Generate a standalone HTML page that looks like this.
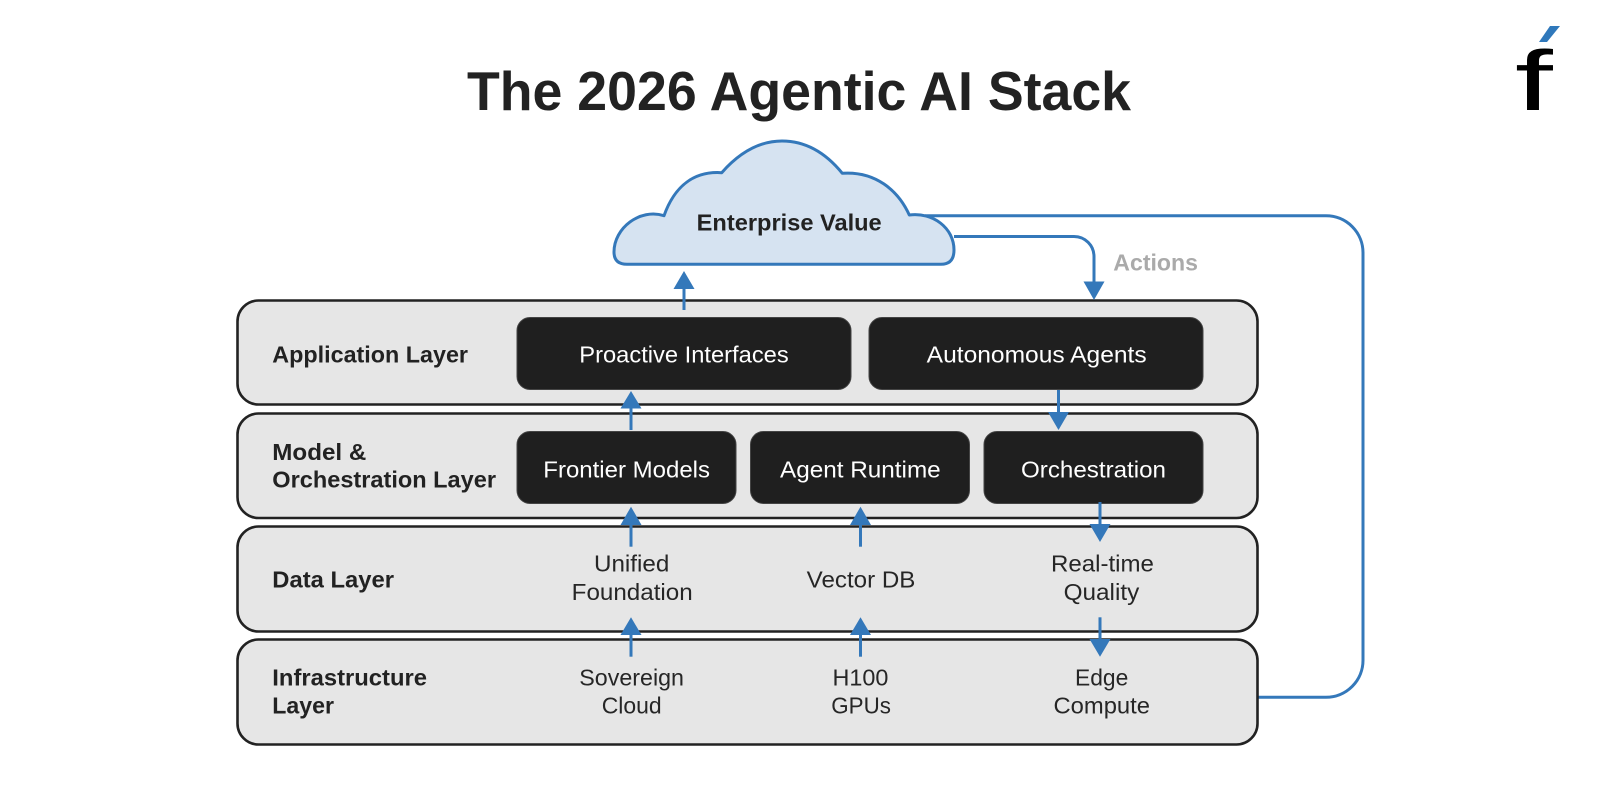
<!DOCTYPE html>
<html lang="en">
<head>
<meta charset="utf-8">
<title>The 2026 Agentic AI Stack</title>
<style>
html,body{margin:0;padding:0;background:#fff;width:1600px;height:800px;overflow:hidden}
svg{display:block}
text{font-family:"Liberation Sans",sans-serif}
.t{font-size:23px;fill:#262626}
.b{font-size:23px;font-weight:700;fill:#222}
.w{font-size:23px;fill:#fff}
.layer{fill:#e6e6e6;stroke:#222;stroke-width:2.6}
.box{fill:#1f1f1f;stroke:#444;stroke-width:1}
.ln{fill:none;stroke:#3478ba;stroke-width:3}
.hd{fill:#3478ba}
</style>
</head>
<body>
<svg xmlns="http://www.w3.org/2000/svg" width="1600" height="800" viewBox="0 0 1600 800">
<rect width="1600" height="800" fill="#fff"/>

<text x="467" y="110" font-size="55" font-weight="700" fill="#222" textLength="664" lengthAdjust="spacingAndGlyphs">The 2026 Agentic AI Stack</text>

<!-- logo -->
<polygon points="1550,26 1560,26 1547,42 1539,42" fill="#2f78bb"/>
<text transform="translate(1515 110) scale(1.6 1)" x="0" y="0" font-size="85" fill="#000">f</text>

<!-- loop connector -->
<path class="ln" d="M1258 697.3H1326A37 37 0 0 0 1363 660.3V253A37 37 0 0 0 1326 215.7H925"/>

<!-- cloud -->
<path d="M627 264.3Q614 264.3 614 252C614 228 640 208 664 215.7C675 185 695 171 721.7 172.7C740 152 760 141 782 141C805 141 825 152 842.3 173.3C875 171 898 190 909.3 215C933 212 954 228 954 250Q954 264.3 941 264.3Z" fill="#d6e3f1" stroke="#3478ba" stroke-width="3" stroke-linejoin="round"/>
<text class="b" x="696.7" y="230.7" fill="#1f2328" textLength="185" lengthAdjust="spacingAndGlyphs">Enterprise Value</text>

<!-- layers -->
<rect class="layer" x="237.5" y="300.5" width="1020" height="104" rx="21"/>
<rect class="layer" x="237.5" y="413.5" width="1020" height="104.5" rx="21"/>
<rect class="layer" x="237.5" y="526.5" width="1020" height="105" rx="21"/>
<rect class="layer" x="237.5" y="639.5" width="1020" height="105" rx="21"/>

<!-- dark boxes -->
<rect class="box" x="517" y="317.5" width="334" height="72" rx="13"/>
<rect class="box" x="869" y="317.5" width="334" height="72" rx="13"/>
<rect class="box" x="517" y="431.5" width="219" height="72" rx="13"/>
<rect class="box" x="750.5" y="431.5" width="219" height="72" rx="13"/>
<rect class="box" x="984" y="431.5" width="219" height="72" rx="13"/>

<!-- actions connector -->
<path class="ln" d="M954 236.5H1074A20 20 0 0 1 1094 256.5V284"/>
<polygon class="hd" points="1083.5,281.5 1104.5,281.5 1094,300"/>
<text x="1113.3" y="270.7" font-size="23" font-weight="700" fill="#aaa" textLength="84.7" lengthAdjust="spacingAndGlyphs">Actions</text>

<!-- up arrows -->
<path class="ln" d="M684 310V285"/><polygon class="hd" points="673.5,289 694.5,289 684,271"/>
<path class="ln" d="M631 430V405"/><polygon class="hd" points="620.5,408.5 641.5,408.5 631,391"/>
<path class="ln" d="M631 546.7V522"/><polygon class="hd" points="620.5,525 641.5,525 631,506.7"/>
<path class="ln" d="M631 656.7V632"/><polygon class="hd" points="620.5,635 641.5,635 631,617.3"/>
<path class="ln" d="M860.5 546.7V522"/><polygon class="hd" points="850,525 871,525 860.5,506.7"/>
<path class="ln" d="M860.5 656.7V632"/><polygon class="hd" points="850,635 871,635 860.5,617.3"/>

<!-- down arrows -->
<path class="ln" d="M1058.5 390V415"/><polygon class="hd" points="1048,412 1069,412 1058.5,430"/>
<path class="ln" d="M1100 502V527"/><polygon class="hd" points="1089.5,524 1110.5,524 1100,542"/>
<path class="ln" d="M1100 617.3V642"/><polygon class="hd" points="1089.5,639 1110.5,639 1100,656.7"/>

<!-- layer labels -->
<text class="b" x="272.3" y="362.7" textLength="195.7" lengthAdjust="spacingAndGlyphs">Application Layer</text>
<text class="b" x="272.3" y="460" textLength="94" lengthAdjust="spacingAndGlyphs">Model &amp;</text>
<text class="b" x="272.3" y="487.7" textLength="223.7" lengthAdjust="spacingAndGlyphs">Orchestration Layer</text>
<text class="b" x="272.3" y="587.3" textLength="121.7" lengthAdjust="spacingAndGlyphs">Data Layer</text>
<text class="b" x="272.3" y="685.7" textLength="154.7" lengthAdjust="spacingAndGlyphs">Infrastructure</text>
<text class="b" x="272.3" y="713.3" textLength="61.7" lengthAdjust="spacingAndGlyphs">Layer</text>

<!-- box labels -->
<text class="w" x="579.3" y="362.5" textLength="209.4" lengthAdjust="spacingAndGlyphs">Proactive Interfaces</text>
<text class="w" x="926.7" y="362.5" textLength="220" lengthAdjust="spacingAndGlyphs">Autonomous Agents</text>
<text class="w" x="543.3" y="477.7" textLength="166.7" lengthAdjust="spacingAndGlyphs">Frontier Models</text>
<text class="w" x="780" y="477.7" textLength="160.7" lengthAdjust="spacingAndGlyphs">Agent Runtime</text>
<text class="w" x="1021" y="477.7" textLength="145" lengthAdjust="spacingAndGlyphs">Orchestration</text>

<!-- data layer -->
<text class="t" x="594" y="571.7" textLength="75.3" lengthAdjust="spacingAndGlyphs">Unified</text>
<text class="t" x="571.7" y="600" textLength="121" lengthAdjust="spacingAndGlyphs">Foundation</text>
<text class="t" x="806.7" y="587.3" textLength="108.7" lengthAdjust="spacingAndGlyphs">Vector DB</text>
<text class="t" x="1051" y="571.7" textLength="102.9" lengthAdjust="spacingAndGlyphs">Real-time</text>
<text class="t" x="1063.6" y="600" textLength="75.7" lengthAdjust="spacingAndGlyphs">Quality</text>

<!-- infrastructure layer -->
<text class="t" x="579.3" y="685.7" textLength="104.7" lengthAdjust="spacingAndGlyphs">Sovereign</text>
<text class="t" x="601.7" y="713.3" textLength="60" lengthAdjust="spacingAndGlyphs">Cloud</text>
<text class="t" x="832.5" y="685.7" textLength="55.9" lengthAdjust="spacingAndGlyphs">H100</text>
<text class="t" x="831.3" y="713.3" textLength="59.6" lengthAdjust="spacingAndGlyphs">GPUs</text>
<text class="t" x="1075" y="685.7" textLength="53.3" lengthAdjust="spacingAndGlyphs">Edge</text>
<text class="t" x="1053.5" y="713.3" textLength="96.5" lengthAdjust="spacingAndGlyphs">Compute</text>
</svg>
</body>
</html>
